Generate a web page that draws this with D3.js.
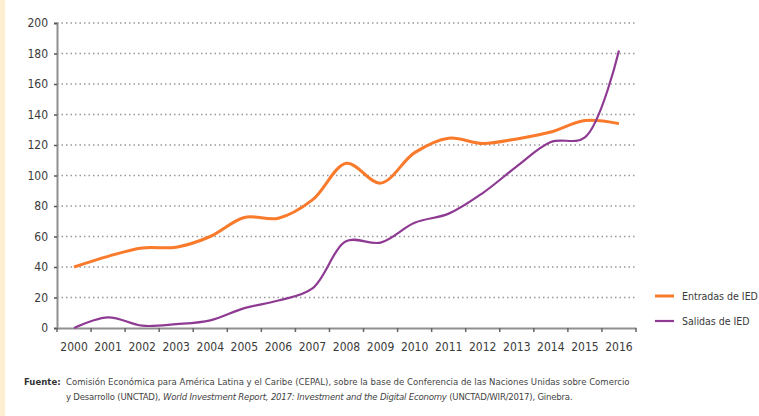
<!DOCTYPE html>
<html lang="es">
<head>
    <meta charset="UTF-8">
    <title>Entradas y salidas de IED</title>
    <script src="https://d3js.org/d3.v7.min.js"></script>
    <style>
        body { margin: 0; background: #fff; }
        svg { display: block; }
        .tick-label {
            font-family: "DejaVu Sans Condensed", "Liberation Sans", sans-serif;
            font-size: 12px;
            fill: #3a3a3a;
        }
        .legend-label {
            font-family: "DejaVu Sans Condensed", "Liberation Sans", sans-serif;
            font-size: 10.5px;
            fill: #3a3a3a;
        }
        .source {
            font-family: "DejaVu Sans Condensed", "Liberation Sans", sans-serif;
            font-size: 9.5px;
            fill: #444;
        }
    </style>
</head>
<body>
<script>
    const years = ["2000", "2001", "2002", "2003", "2004", "2005", "2006", "2007", "2008",
        "2009", "2010", "2011", "2012", "2013", "2014", "2015", "2016"];
    const entradas = [40, 47, 52.5, 53, 60, 72.5, 72, 84, 108, 95, 115, 124.5, 121, 124, 128.5, 136, 134];
    const salidas = [0, 7, 1.5, 2.5, 5, 13, 18, 26, 57, 56, 69, 75, 88.5, 106, 122, 125, 182];
    const yTicks = [0, 20, 40, 60, 80, 100, 120, 140, 160, 180, 200];
    const seriesNames = ["Entradas de IED", "Salidas de IED"];
    const seriesColors = ["#f97a2b", "#8e3a92"];

    const width = 759, height = 416;
    const svg = d3.select("body").append("svg")
        .attr("width", width)
        .attr("height", height);

    // cream stripe on the left edge
    svg.append("rect")
        .attr("x", 0).attr("y", 0)
        .attr("width", 5).attr("height", height)
        .attr("fill", "#fdf0d2");

    const plotLeft = 57, plotRight = 636, plotTop = 23, plotBottom = 328;

    const x = d3.scaleBand().domain(years).range([plotLeft, plotRight]);
    const y = d3.scaleLinear().domain([0, 200]).range([plotBottom, plotTop]);

    // dotted gridlines
    svg.append("g")
        .selectAll("line")
        .data(yTicks.filter(d => d > 0))
        .join("line")
        .attr("x1", plotLeft).attr("x2", plotRight)
        .attr("y1", d => y(d)).attr("y2", d => y(d))
        .attr("stroke", "#999")
        .attr("stroke-width", 1.3)
        .attr("stroke-dasharray", "1.5,3");

    // y axis
    const yAxis = svg.append("g")
        .attr("transform", `translate(${plotLeft},0)`)
        .call(d3.axisLeft(y).tickValues(yTicks).tickSize(3).tickPadding(6));
    yAxis.select(".domain").attr("stroke", "#8f8f8f").attr("stroke-width", 2);
    yAxis.selectAll(".tick line").attr("stroke", "#555").attr("stroke-width", 1.5);
    yAxis.selectAll(".tick text").attr("class", "tick-label");

    // x axis with ticks on band boundaries
    const xAxis = svg.append("g")
        .attr("transform", `translate(0,${plotBottom})`)
        .call(d3.axisBottom(x).tickSize(0).tickPadding(14));
    xAxis.select(".domain").attr("stroke", "#8f8f8f").attr("stroke-width", 2);
    xAxis.selectAll(".tick text").attr("class", "tick-label");
    xAxis.append("g")
        .selectAll("line")
        .data(years.concat(["end"]))
        .join("line")
        .attr("x1", (d, i) => plotLeft + i * x.bandwidth())
        .attr("x2", (d, i) => plotLeft + i * x.bandwidth())
        .attr("y1", 0).attr("y2", 4)
        .attr("stroke", "#666")
        .attr("stroke-width", 1.5);

    const line = d3.line()
        .x((d, i) => x(years[i]) + x.bandwidth() / 2)
        .y(d => y(d))
        .curve(d3.curveCatmullRom.alpha(0.5));

    svg.append("path")
        .datum(entradas)
        .attr("fill", "none")
        .attr("stroke", seriesColors[0])
        .attr("stroke-width", 3)
        .attr("d", line);

    svg.append("path")
        .datum(salidas)
        .attr("fill", "none")
        .attr("stroke", seriesColors[1])
        .attr("stroke-width", 2.2)
        .attr("d", line);

    // legend
    const legend = svg.append("g")
        .selectAll("g")
        .data(seriesNames)
        .join("g")
        .attr("transform", (d, i) => `translate(655,${296 + i * 25})`);
    legend.append("line")
        .attr("x1", 0).attr("x2", 19)
        .attr("stroke", (d, i) => seriesColors[i])
        .attr("stroke-width", (d, i) => i === 0 ? 3 : 2.2);
    legend.append("text")
        .attr("class", "legend-label")
        .attr("x", 27).attr("dy", "0.35em")
        .text(d => d);

    // source note
    const src1 = svg.append("text").attr("class", "source").attr("x", 24).attr("y", 385);
    src1.append("tspan").attr("font-weight", "bold").attr("fill", "#333").text("Fuente:");
    src1.append("tspan").attr("x", 66)
        .text("Comisión Económica para América Latina y el Caribe (CEPAL), sobre la base de Conferencia de las Naciones Unidas sobre Comercio");

    const src2 = svg.append("text").attr("class", "source")
        .attr("x", 66).attr("y", 400)
        .attr("letter-spacing", "-0.2px");
    src2.append("tspan").text("y Desarrollo (UNCTAD), ");
    src2.append("tspan").attr("font-style", "italic")
        .text("World Investment Report, 2017: Investment and the Digital Economy");
    src2.append("tspan").text(" (UNCTAD/WIR/2017), Ginebra.");
</script>
</body>
</html>
